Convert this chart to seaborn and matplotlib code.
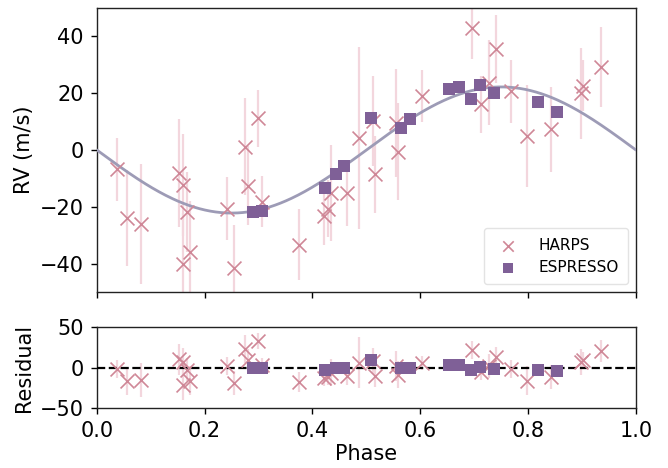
import numpy as np
import pandas as pd
import matplotlib
matplotlib.use("Agg")
import matplotlib.pyplot as plt
import seaborn as sns

# ---- data ----
harps_phase = [0.038, 0.056, 0.081, 0.152, 0.160, 0.159, 0.168, 0.173, 0.242, 0.254,
               0.275, 0.280, 0.298, 0.306, 0.375, 0.422, 0.429, 0.434, 0.464, 0.486,
               0.512, 0.516, 0.555, 0.559, 0.603, 0.695, 0.712, 0.728, 0.740, 0.769,
               0.797, 0.842, 0.898, 0.902, 0.936]
harps_rv = [-6.8, -23.9, -26.0, -8.1, -12.3, -40.1, -21.8, -35.9, -20.6, -41.5,
            1.2, -12.5, 11.2, -18.2, -33.3, -23.3, -20.6, -15.1, -15.1, 4.3,
            10.2, -8.6, 9.6, -0.6, 19.0, 43.1, 16.1, 23.7, 35.5, 20.6,
            4.9, 7.3, 19.9, 22.6, 29.3]
harps_err = [11, 17, 21, 19, 18, 18, 14, 18, 11, 15,
             17, 14, 10, 9, 12.5, 10, 10, 17, 11.5, 32,
             16, 13.5, 19, 17, 9, 11, 10, 15, 12, 11,
             18, 15, 16, 9, 14]

esp_phase = [0.289, 0.307, 0.424, 0.443, 0.458, 0.509, 0.565, 0.580, 0.653, 0.672,
             0.694, 0.711, 0.737, 0.819, 0.854]
esp_rv = [-21.8, -21.3, -13.5, -8.6, -5.8, 11.2, 7.9, 10.8, 21.6, 22.2,
          17.9, 22.9, 19.9, 17.0, 13.2]
esp_err = [1.5, 1.5, 1.8, 1.5, 1.5, 2.2, 2.0, 1.5, 1.5, 1.5,
           1.5, 1.8, 1.5, 1.8, 1.5]

K = 22.2  # semi-amplitude of the fitted circular orbit (m/s)

def model(ph):
    return -K * np.sin(2 * np.pi * np.asarray(ph))

harps = pd.DataFrame({"phase": harps_phase, "rv": harps_rv, "err": harps_err})
harps["resid"] = harps["rv"] - model(harps["phase"])
esp = pd.DataFrame({"phase": esp_phase, "rv": esp_rv, "err": esp_err})
esp["resid"] = esp["rv"] - model(esp["phase"])
grid = pd.DataFrame({"phase": np.linspace(0, 1, 400)})
grid["rv"] = model(grid["phase"])

# ---- style ----
sns.set_style("ticks")
plt.rcParams["font.family"] = ["DejaVu Sans"]
plt.rcParams["text.color"] = "black"
plt.rcParams["axes.labelcolor"] = "black"
plt.rcParams["xtick.color"] = "black"
plt.rcParams["ytick.color"] = "black"
plt.rcParams["axes.edgecolor"] = "black"

c_harps = "#cf8797"
c_harps_err = "#f3d6dd"
c_esp = "#7f6097"
c_model = "#9d9bb6"
FS = 15

fig = plt.figure(figsize=(6.68, 4.68), dpi=100)
ax1 = fig.add_axes([0.145, 0.376, 0.807, 0.607])
ax2 = fig.add_axes([0.145, 0.128, 0.807, 0.173])

for ax, col in [(ax1, "rv"), (ax2, "resid")]:
    ax.errorbar(harps["phase"], harps[col], yerr=harps["err"], fmt="none",
                ecolor=c_harps_err, elinewidth=1.6, zorder=1)
    ax.errorbar(esp["phase"], esp[col], yerr=esp["err"], fmt="none",
                ecolor=c_esp, elinewidth=1.5, zorder=2)

sns.lineplot(data=grid, x="phase", y="rv", ax=ax1, color=c_model, lw=2, zorder=3)
sns.scatterplot(data=harps, x="phase", y="rv", ax=ax1, marker="x", s=100,
                color=c_harps, linewidth=1.2, zorder=4, label="HARPS")
sns.scatterplot(data=esp, x="phase", y="rv", ax=ax1, marker="s", s=80,
                color=c_esp, edgecolor=c_esp, linewidth=0, zorder=5, label="ESPRESSO")

ax2.axhline(0, color="black", ls="--", lw=1.6, zorder=3)
sns.scatterplot(data=harps, x="phase", y="resid", ax=ax2, marker="x", s=100,
                color=c_harps, linewidth=1.2, zorder=4, legend=False)
sns.scatterplot(data=esp, x="phase", y="resid", ax=ax2, marker="s", s=80,
                color=c_esp, edgecolor=c_esp, linewidth=0, zorder=5, legend=False)

for ax in (ax1, ax2):
    for sp in ax.spines.values():
        sp.set_color("#222222")
        sp.set_linewidth(1.0)
    ax.tick_params(labelsize=FS, length=4.5, width=1.0, pad=5)

ax1.set_xlim(0, 1)
ax1.set_ylim(-50, 50)
ax1.set_yticks([-40, -20, 0, 20, 40])
ax1.set_xticks([0, 0.2, 0.4, 0.6, 0.8, 1.0])
ax1.set_xticklabels([])
ax1.set_xlabel("")
ax1.set_ylabel("RV (m/s)", fontsize=FS)

ax2.set_xlim(0, 1)
ax2.set_ylim(-50, 50)
ax2.set_yticks([-50, 0, 50])
ax2.set_xticks([0, 0.2, 0.4, 0.6, 0.8, 1.0])
ax2.set_xlabel("Phase", fontsize=FS, labelpad=2)
ax2.set_ylabel("Residual", fontsize=FS)

leg = ax1.legend(loc="lower right", fontsize=11, frameon=True, borderpad=0.6,
                 handletextpad=1.0, markerscale=0.75)
leg.get_frame().set_edgecolor("#dddddd")

fig.savefig("out.png", dpi=100)
